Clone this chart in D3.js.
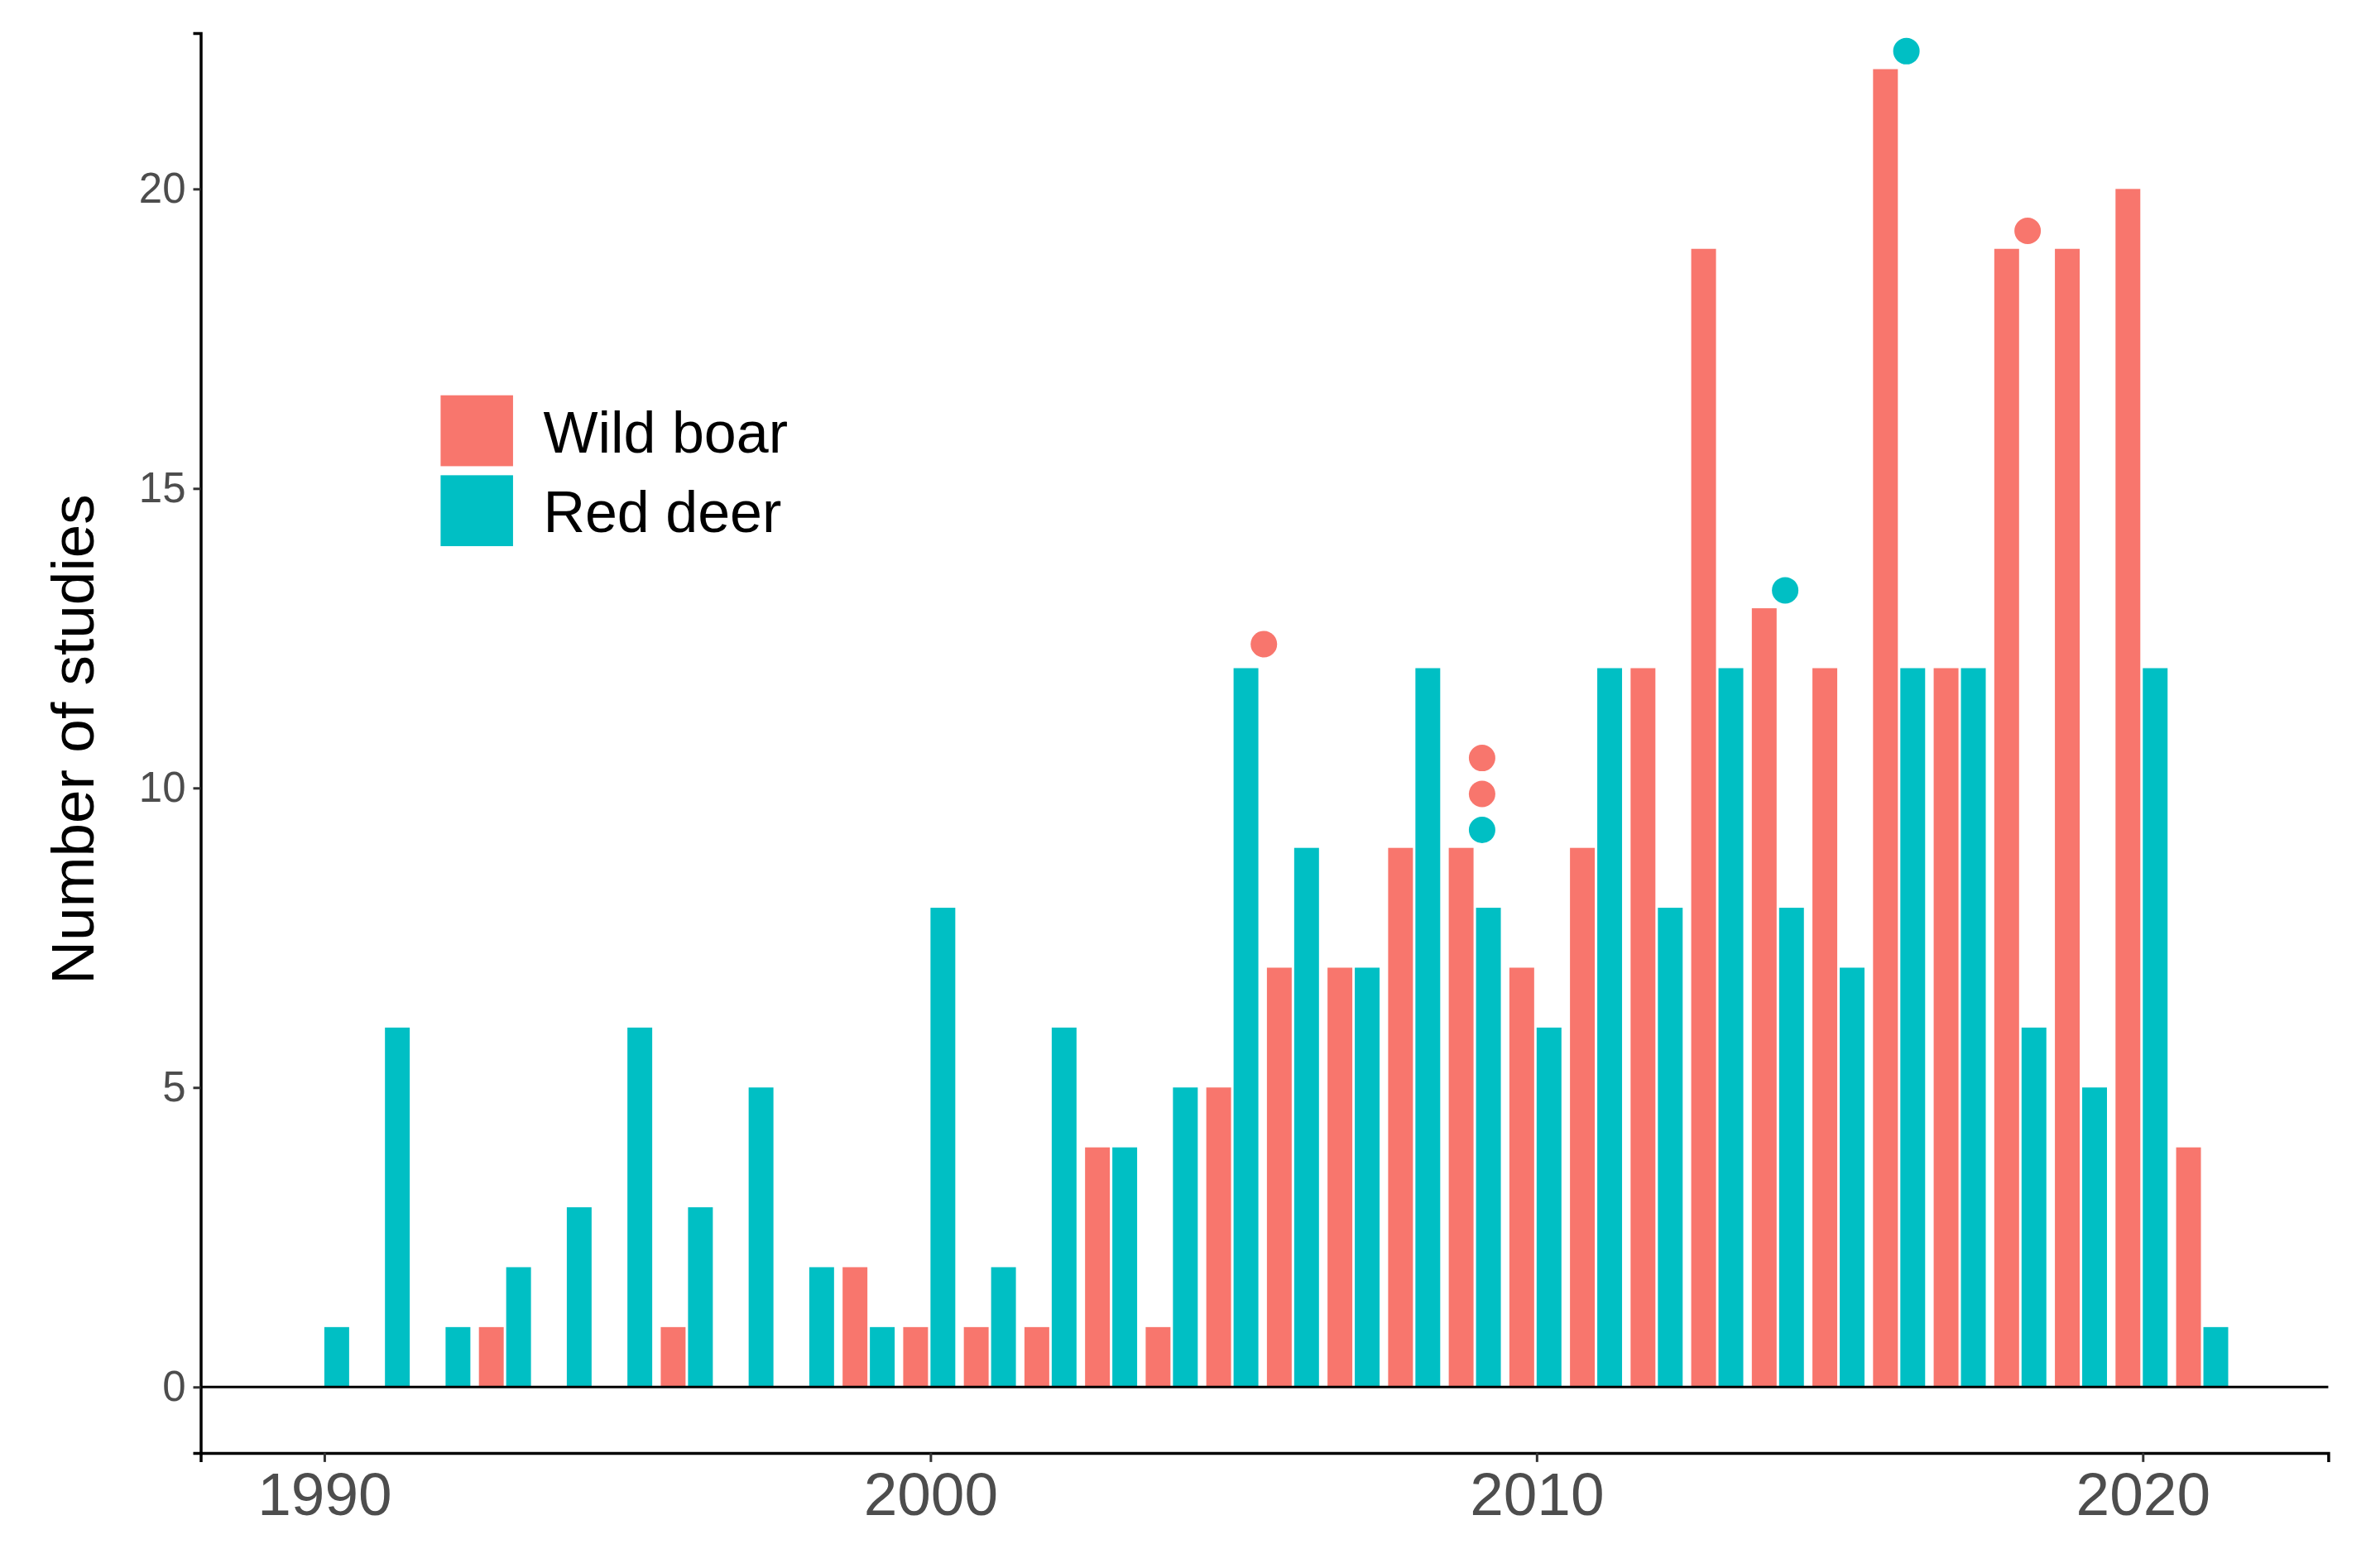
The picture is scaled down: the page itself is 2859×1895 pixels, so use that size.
<!DOCTYPE html>
<html><head><meta charset="utf-8">
<script src="https://cdn.jsdelivr.net/npm/d3@7"></script>
<style>body{margin:0;background:#fff}text{font-family:Arial,"Liberation Sans",sans-serif}</style>
</head><body><svg id="c" width="2859" height="1895"></svg>
<script>
const years = d3.range(1990, 2022);
const wildBoar = [0,0,0,1,0,0,1,0,0,2,1,1,1,4,1,5,7,7,9,9,7,9,12,19,13,12,22,12,19,19,20,4];
const redDeer  = [1,6,1,2,3,6,3,5,2,1,8,2,6,4,5,12,9,7,12,8,6,12,8,12,8,7,12,12,6,5,12,1];
const seriesNames = ["Wild boar","Red deer"];
const colors = ["#F8766D","#00BFC4"];
const pointYear = [2005.5,2009.1,2009.1,2009.1,2014.1,2016.1,2018.1];
const pointVal  = [12.4,10.5,9.9,9.3,13.3,22.3,19.3];
const pointSeries = [0,0,0,1,1,1,0];
const yTicks = [0,5,10,15,20];
const xTicks = [1990,2000,2010,2020];

const s = 2859/1568;
const L=133*s, R=1543*s, T=22*s, B=963*s;
const svg = d3.select("#c");
const x = d3.scaleLinear().domain([1987.96,2023.06]).range([L,R]);
const y = d3.scaleLinear().domain([-1.1,22.6]).range([B,T]);
const bw = (x(1991)-x(1990))*0.45;

// bars
[wildBoar, redDeer].forEach((vals,si)=>{
  svg.append("g").selectAll("rect").data(years.map((yr,i)=>({yr,v:vals[i]})).filter(d=>d.v>0))
    .join("rect")
    .attr("x",d=>si===0? x(d.yr)-bw : x(d.yr))
    .attr("width",bw-3)
    .attr("y",d=>y(d.v)).attr("height",d=>y(0)-y(d.v))
    .attr("fill",colors[si]);
});
// zero line
svg.append("line").attr("x1",L).attr("x2",R).attr("y1",y(0)).attr("y2",y(0)).attr("stroke","#000").attr("stroke-width",3);
// points
svg.append("g").selectAll("circle").data(pointYear.map((yr,i)=>({yr,v:pointVal[i],s:pointSeries[i]})))
  .join("circle").attr("cx",d=>x(d.yr)).attr("cy",d=>y(d.v)).attr("r",16).attr("fill",d=>colors[d.s]);

// axes
const ya = svg.append("g").attr("transform",`translate(${L},0)`).call(d3.axisLeft(y).tickValues(yTicks).tickSize(9).tickPadding(9));
ya.selectAll("text").attr("font-size",51).attr("fill","#4d4d4d");
const xa = svg.append("g").attr("transform",`translate(0,${B})`).call(d3.axisBottom(x).tickValues(xTicks).tickFormat(d3.format("d")).tickSize(11).tickPadding(12));
xa.selectAll("text").attr("font-size",73).attr("fill","#4d4d4d");
[ya,xa].forEach(a=>{a.select(".domain").attr("stroke","#000").attr("stroke-width",3.5);a.selectAll(".tick line").attr("stroke","#333").attr("stroke-width",3);});

svg.append("text").attr("transform",`translate(${62*s},${490*s}) rotate(-90)`).attr("text-anchor","middle")
  .attr("font-size",73).text("Number of studies");

// legend
seriesNames.forEach((n,i)=>{
  const gy=(262+i*53)*s;
  svg.append("rect").attr("x",292*s).attr("y",gy).attr("width",48*s).attr("height",47*s).attr("fill",colors[i]);
  svg.append("text").attr("x",360*s).attr("y",gy+24*s).attr("dy","0.36em").attr("font-size",70).text(n);
});
</script></body></html>
